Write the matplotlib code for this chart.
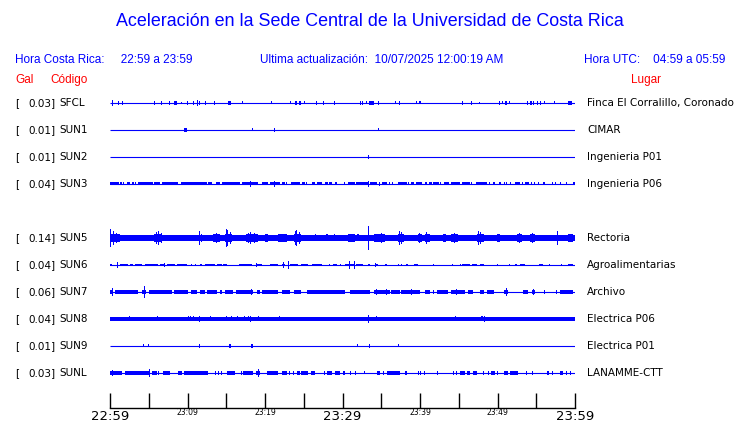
import matplotlib
matplotlib.use('Agg')
import matplotlib.pyplot as plt

# --- datos ---
codigos = ['SFCL', 'SUN1', 'SUN2', 'SUN3', 'SUN5', 'SUN6', 'SUN7', 'SUN8', 'SUN9', 'SUNL']
gal = [0.03, 0.01, 0.01, 0.04, 0.14, 0.04, 0.06, 0.04, 0.01, 0.03]
lugares = ['Finca El Corralillo, Coronado', 'CIMAR', 'Ingenieria P01', 'Ingenieria P06',
           'Rectoria', 'Agroalimentarias', 'Archivo', 'Electrica P06', 'Electrica P01',
           'LANAMME-CTT']
filas = [0, 1, 2, 3, 5, 6, 7, 8, 9, 10]

tick_min = list(range(0, 61, 5))
tick_txt = ['22:59', '', '23:09', '', '23:19', '', '23:29', '', '23:39', '', '23:49', '', '23:59']

# amplitud de fondo (banda continua) y de los bloques, en px de media altura
fondo = [0, 0, 0, 0, 2.8, 0, 0, 1.7, 0, 0]
amp_bloque = [1.7, 1.7, 1.7, 1.5, 4, 1.3, 1.7, 1.7, 1.7, 1.7]

# bloques (minuto inicio, minuto fin)
bloques = [
    [(8.2, 8.6), (13.4, 13.6), (15.2, 15.6), (24.4, 24.7), (33.4, 34.0), (51.0, 51.2),
     (54.2, 54.4), (59.1, 59.6)],
    [(9.5, 9.9), (21.1, 21.3)],
    [],
    [(0.0, 1.1), (1.3, 1.5), (2.15, 2.6), (2.9, 3.15), (3.66, 5.6), (5.7, 6.45), (6.75, 8.8),
     (9.15, 12.5), (12.7, 13.2), (13.7, 14.2), (14.4, 16.8), (17.0, 19.1), (19.65, 20.4),
     (20.7, 21.9), (22.2, 22.6), (23.4, 24.5), (24.8, 25.2), (26.0, 26.45), (26.7, 27.3),
     (27.8, 28.1), (28.3, 28.6), (29.0, 29.25), (30.75, 31.6), (31.7, 33.3), (33.5, 34.5),
     (35.1, 35.7), (37.2, 38.3), (38.8, 39.2), (39.5, 40.2), (40.6, 40.9), (41.1, 41.6),
     (41.7, 42.5), (43.1, 43.8), (44.0, 45.1), (45.4, 46.5), (47.2, 48.7), (49.4, 49.7),
     (50.2, 50.5), (52.3, 52.9), (53.5, 54.1), (59.7, 60.0)],
    [(0.0, 1.3), (5.7, 6.7), (13.3, 14.2), (14.8, 15.7), (17.6, 19.1), (20.0, 20.4),
     (21.7, 22.8), (23.7, 24.7), (30.75, 31.6), (34.0, 35.5), (37.2, 37.9), (39.8, 40.2),
     (40.6, 41.3), (43.0, 43.4), (44.0, 44.9), (47.3, 48.2), (49.9, 50.3), (52.5, 53.1),
     (54.2, 54.8), (59.1, 59.8)],
    [(0.0, 0.3), (1.29, 2.37), (2.58, 3.0), (3.2, 4.1), (4.5, 6.24), (6.45, 7.1), (7.3, 8.4),
     (8.6, 10.0), (10.45, 10.6), (11.6, 11.9), (12.2, 13.55), (13.8, 14.4), (14.6, 15.05),
     (16.6, 18.3), (18.9, 19.6), (20.6, 21.7), (22.2, 22.6), (23.2, 24.3), (24.7, 25.6),
     (26.0, 27.3), (28.8, 29.25), (30.3, 31.6), (31.8, 32.7), (33.3, 33.5), (34.3, 34.6),
     (35.5, 35.7), (38.2, 38.5), (39.2, 39.8), (45.4, 46.5), (46.7, 47.3), (47.7, 48.2),
     (49.9, 50.1), (52.2, 52.5), (52.9, 53.5), (55.4, 55.9), (59.1, 59.8)],
    [(0.0, 0.43), (0.65, 3.66), (4.1, 4.7), (5.0, 7.96), (8.2, 10.1), (10.45, 11.2),
     (11.6, 12.3), (12.5, 13.8), (14.2, 14.4), (14.8, 15.9), (16.3, 18.5), (19.0, 19.4),
     (19.6, 21.7), (22.2, 23.2), (23.7, 24.7), (25.4, 30.3), (30.97, 33.5), (34.0, 36.1),
     (36.3, 37.4), (37.6, 40.0), (40.6, 41.3), (42.2, 43.6), (44.0, 45.8), (46.2, 46.9),
     (47.7, 48.2), (48.6, 49.5), (50.8, 51.4), (53.3, 53.9), (54.4, 54.8), (58.1, 59.8)],
    [(11.3, 11.6), (13.8, 14.0), (34.6, 34.8)],
    [(15.4, 15.6), (18.2, 18.4)],
    [(0.0, 1.5), (1.94, 5.0), (5.4, 6.0), (6.9, 7.7), (8.8, 9.25), (9.5, 12.7), (15.05, 16.1),
     (17.2, 18.5), (18.9, 19.4), (20.2, 21.7), (22.2, 22.8), (24.1, 24.5), (24.7, 25.6),
     (25.9, 26.5), (28.0, 28.6), (29.0, 29.7), (34.4, 34.8), (35.7, 37.4), (38.0, 38.3),
     (45.2, 45.8), (46.1, 46.5), (46.9, 47.4), (49.2, 49.7), (50.8, 51.4), (51.6, 52.7),
     (56.4, 56.7), (58.1, 58.4)],
]

# picos (minuto, media altura en px)
picos = [
    [(0.3, 3), (1.16, 2), (1.6, 2), (5.8, 2), (6.7, 2), (7.65, 2), (9.25, 1), (10.0, 2),
     (10.75, 2), (11.3, 3), (11.6, 2), (12.3, 2), (17.1, 1.5), (20.9, 1.5), (23.3, 1.5),
     (24.0, 2), (25.1, 1.5), (26.7, 2), (27.5, 2), (29.0, 2), (32.3, 2), (32.6, 2),
     (33.1, 1.5), (34.7, 2), (36.8, 1.5), (37.4, 2), (39.5, 1.5), (40.0, 1.5), (45.5, 2),
     (46.6, 2), (47.7, 1), (50.2, 2), (50.7, 1.5), (51.5, 1.5), (53.9, 2), (54.7, 2),
     (55.2, 2), (55.5, 2), (56.1, 1.5), (57.3, 1.5)],
    [(18.4, 1.5), (34.6, 1.5)],
    [(33.3, 2)],
    [(1.72, 1.5), (3.3, 1.5), (18.15, 3), (21.2, 3), (22.8, 1.5), (25.4, 1.5), (30.3, 1.5),
     (33.3, 3), (34.75, 2), (36.1, 1.5), (36.4, 1.5), (38.5, 1.5), (42.7, 1.5), (46.7, 1.5),
     (49.0, 1.5), (50.9, 1.5), (51.2, 1.5), (51.7, 1.5), (53.25, 1.5), (54.4, 1.5),
     (54.8, 1.5), (55.3, 1.5), (56.0, 1.5), (57.1, 1.5), (57.5, 1.5), (58.1, 1.5), (58.9, 1.5)],
    [(0.1, 9), (0.4, 7), (0.8, 5), (6.0, 6), (6.3, 7), (6.6, 5), (11.6, 7), (11.8, 4),
     (13.7, 5), (15.0, 9), (15.2, 8), (15.5, 6), (17.9, 5), (18.1, 6), (18.6, 5), (20.2, 4),
     (22.2, 4), (23.9, 7), (24.1, 8), (24.4, 6), (26.5, 3.5), (28.0, 3.5), (29.0, 3.5),
     (32.0, 3.5), (33.3, 12), (35.0, 5), (37.3, 7), (37.6, 6), (39.9, 5), (40.9, 6),
     (43.2, 4), (44.4, 5), (47.5, 7), (47.8, 6), (50.1, 4), (52.8, 5), (54.5, 5), (57.8, 7),
     (59.4, 4)],
    [(1.0, 3), (7.0, 2), (11.0, 1.3), (18.9, 2), (22.4, 3), (23.0, 4), (28.3, 1.3),
     (29.7, 1.3), (30.9, 4), (31.5, 4), (34.3, 2), (37.2, 1.3), (37.6, 1.3), (41.7, 1.3),
     (44.2, 1.3), (45.2, 1.3), (51.6, 1.3), (56.7, 1.3), (58.2, 1.3)],
    [(0.3, 4), (4.4, 6), (18.3, 3), (34.4, 3), (35.7, 3), (38.9, 3), (41.7, 1.7), (44.7, 3),
     (51.2, 4), (54.6, 3), (56.1, 1.7), (57.6, 1.7)],
    [(2.5, 2.5), (6.1, 2.5), (10.1, 2.5), (10.45, 2.5), (10.75, 2.5), (11.5, 3), (13.0, 2.5),
     (15.0, 2.5), (15.7, 2.5), (16.4, 2.5), (17.3, 2.5), (17.9, 2.5), (18.1, 3), (19.1, 2.5),
     (21.85, 2.5), (33.4, 4), (34.4, 2.5), (44.6, 2.5), (48.0, 2.5), (48.3, 3)],
    [(4.3, 1.5), (5.0, 1.5), (11.5, 2), (31.9, 1.5), (33.5, 2), (37.2, 1.5)],
    [(0.3, 3), (5.08, 4), (6.24, 1.7), (13.55, 1.7), (14.0, 1.7), (14.4, 1.7), (17.0, 1.7),
     (19.2, 4), (23.2, 1.7), (23.7, 1.7), (27.7, 1.7), (30.1, 1.7), (30.3, 1.7), (31.0, 1.7),
     (31.7, 1.7), (32.8, 1.5), (35.3, 1.7), (39.8, 1.7), (40.1, 1.7), (40.6, 1.7),
     (42.2, 1.7), (44.3, 1.7), (44.7, 1.7), (48.2, 1.7), (48.9, 1.7), (50.0, 1.7),
     (53.8, 1.7), (54.5, 1.7), (57.1, 1.7), (58.9, 1.7), (59.4, 1.7)],
]

AZUL = '#0000ff'
W, H = 740, 423


def fx(x):
    return x / W


def fy(y):
    return 1 - y / H


fig = plt.figure(figsize=(W / 100, H / 100), dpi=100)
ax = fig.add_axes([fx(110), fy(408), fx(575) - fx(110), fy(90) - fy(408)])
ax.set_xlim(0, 60)
ax.set_ylim(408, 90)

ancho_pico = 0.13
for i, fila in enumerate(filas):
    yc = 103 + 27 * fila
    ax.hlines(yc, 0, 60, color=AZUL, lw=0.8)
    if fondo[i] > 0:
        ax.bar(0, 2 * fondo[i], width=60, bottom=yc - fondo[i], align='edge',
               color=AZUL, lw=0)
    for s, e in bloques[i]:
        a = amp_bloque[i]
        ax.bar(s, 2 * a, width=max(e - s, ancho_pico), bottom=yc - a, align='edge',
               color=AZUL, lw=0)
    for m, a in picos[i]:
        ax.bar(m, 2 * a, width=ancho_pico, bottom=yc - a, align='center',
               color=AZUL, lw=0)

    fig.text(fx(15), fy(yc), '[', fontsize=7.5, va='center', ha='left')
    fig.text(fx(55.5), fy(yc), f'{gal[i]:.2f}]', fontsize=7.5, va='center', ha='right')
    fig.text(fx(59.5), fy(yc), codigos[i], fontsize=7.5, va='center', ha='left')
    fig.text(fx(587), fy(yc), lugares[i], fontsize=7.5, va='center', ha='left')

for lado in ['top', 'left', 'right']:
    ax.spines[lado].set_visible(False)
ax.spines['bottom'].set_linewidth(1)
ax.set_yticks([])
ax.set_xticks(tick_min)
ax.set_xticklabels(tick_txt)
ax.tick_params(axis='x', direction='in', length=11, width=1, pad=1.5)
for lbl in ax.get_xticklabels():
    if lbl.get_text() in ('22:59', '23:29', '23:59'):
        lbl.set_fontsize(9.5)
    else:
        lbl.set_fontsize(5.5)
        lbl.set_y(0.008)

sans = ['Liberation Sans', 'DejaVu Sans']
fig.text(0.5, fy(22), 'Aceleración en la Sede Central de la Universidad de Costa Rica',
         ha='center', va='center', fontsize=12.9, color=AZUL, family=sans)
fig.text(fx(15), fy(60), 'Hora Costa Rica:     22:59 a 23:59', ha='left', va='center',
         fontsize=8.5, color=AZUL, family=sans)
fig.text(fx(260), fy(60), 'Ultima actualización:  10/07/2025 12:00:19 AM', ha='left',
         va='center', fontsize=8.5, color=AZUL, family=sans)
fig.text(fx(725), fy(60), 'Hora UTC:    04:59 a 05:59', ha='right', va='center',
         fontsize=8.5, color=AZUL, family=sans)
fig.text(fx(15), fy(80), 'Gal', ha='left', va='center', fontsize=8.5, color='red', family=sans)
fig.text(fx(50), fy(80), 'Código', ha='left', va='center', fontsize=8.5, color='red', family=sans)
fig.text(fx(661), fy(80), 'Lugar', ha='right', va='center', fontsize=8.5, color='red', family=sans)

fig.savefig('out.png', dpi=100)
